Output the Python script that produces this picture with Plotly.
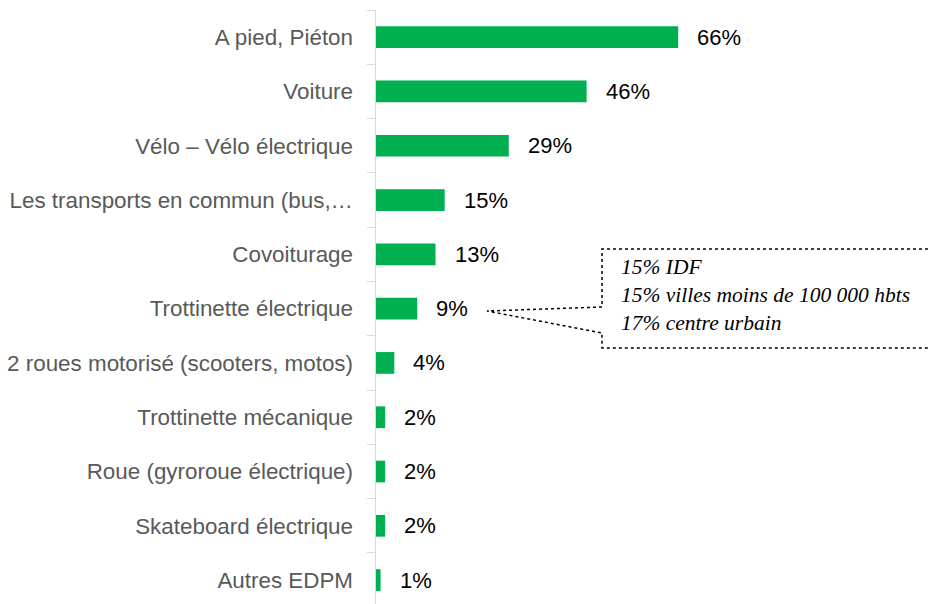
import plotly.graph_objects as go

categories = [
    "A pied, Piéton",
    "Voiture",
    "Vélo – Vélo électrique",
    "Les transports en commun (bus,…",
    "Covoiturage",
    "Trottinette électrique",
    "2 roues motorisé (scooters, motos)",
    "Trottinette mécanique",
    "Roue (gyroroue électrique)",
    "Skateboard électrique",
    "Autres EDPM",
]
values = [66, 46, 29, 15, 13, 9, 4, 2, 2, 2, 1]
callout_lines = ["15% IDF", "15% villes moins de 100 000 hbts", "17% centre urbain"]

W, H = 930, 604
L, R, T, B = 376, 0, 10, 0
PW, PH = W - L - R, H - T - B
XMAX = 121.0


def px(x):
    return (x - L) / PW


def py(y):
    return 1 - (y - T) / PH


fig = go.Figure()
fig.add_trace(go.Bar(
    x=values, y=categories, orientation="h",
    marker=dict(color="#00B050", line=dict(width=0)),
    width=0.4, hoverinfo="skip",
))

for c, v in zip(categories, values):
    fig.add_annotation(
        x=v, y=c, xref="x", yref="y", text=f"{int(v + 0.5)}%",
        showarrow=False, xanchor="left", xshift=17,
        font=dict(family="Liberation Sans", size=22, color="#000000"),
    )

# callout box (dotted wedge)
pts = [(940, 249), (602, 249), (602, 307), (487, 311), (602, 333), (602, 348), (940, 348)]
path = "M " + " L ".join(f"{px(x):.5f},{py(y):.5f}" for x, y in pts)
fig.add_shape(type="path", path=path, xref="paper", yref="paper",
              line=dict(color="#000000", width=1.5, dash="dot"))

fig.add_annotation(
    x=px(619), y=py(295), xref="paper", yref="paper",
    text="<br>".join(f"<i>{t}</i>" for t in callout_lines),
    showarrow=False, xanchor="left", yanchor="middle", align="left",
    font=dict(family="Liberation Serif", size=21.5, color="#000000"),
)

fig.update_layout(
    width=W, height=H,
    margin=dict(l=L, r=R, t=T, b=B, autoexpand=False),
    paper_bgcolor="white", plot_bgcolor="white",
    showlegend=False,
    xaxis=dict(range=[0, XMAX], visible=False, showgrid=False, zeroline=False),
    yaxis=dict(
        type="category", range=[10.44, -0.5], automargin=False,
        showline=True, linecolor="#d9d9d9", linewidth=1.5,
        ticks="outside", tickson="boundaries", ticklen=8, tickcolor="#d9d9d9",
        tickwidth=1, ticklabelstandoff=17,
        showgrid=False, zeroline=False,
        tickfont=dict(family="Liberation Sans", size=22.4, color="#595959"),
    ),
)

fig.write_html(
    "out.html",
    config={"displayModeBar": False, "staticPlot": True},
    post_script="document.body.style.margin='0';document.body.style.overflow='hidden';",
)
